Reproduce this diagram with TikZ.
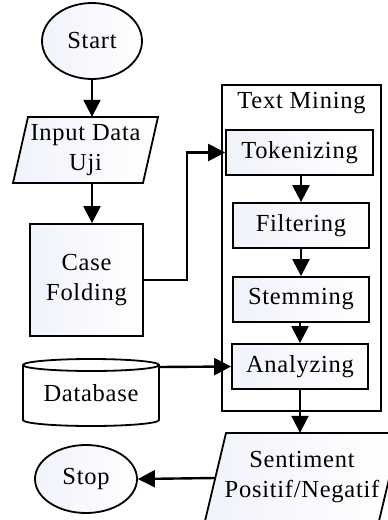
\documentclass[tikz,border=0pt]{standalone}
\usepackage{fontspec}
\setmainfont[LetterSpace=3]{Liberation Serif}
\usetikzlibrary{arrows.meta,shapes.geometric}
\definecolor{shadeblue}{RGB}{241,243,251}
\begin{document}
\begin{tikzpicture}[x=1pt,y=-1pt,
  txt/.style={font=\fontsize{24.5}{30}\selectfont, align=center, inner sep=0pt},
  arr/.style={line width=2.4pt, -{Triangle[length=17pt,width=17pt]}},
  bx/.style={draw, line width=1.8pt, left color=shadeblue, right color=white},
  plain/.style={draw, line width=1.8pt, fill=white},
  term/.style={bx, ellipse, txt},
  stepbox/.style={bx, rectangle, txt, minimum width=136pt, minimum height=45pt},
 ]
\useasboundingbox (0,0) rectangle (388,520);

% Start
\node[term, minimum width=100pt, minimum height=76pt] (start) at (92,41) {Start};

% Input Data Uji (parallelogram)
\path[bx] (28,117) -- (158,117) -- (143,183) -- (13,183) -- cycle;
\node[txt, minimum width=115pt, minimum height=66pt] (input) at (85.5,150) {Input Data\\Uji};

% Case Folding
\node[bx, txt, minimum width=113pt, minimum height=112pt] (case) at (86.5,280) {Case\\Folding};

% Text Mining container
\node[plain, minimum width=159pt, minimum height=326pt] (tm) at (301.5,248) {};
\node[txt] (tmlabel) at (301.5,103) {Text Mining};

% Steps
\node[stepbox, minimum width=147pt] (tok) at (299.5,152.5) {Tokenizing};
\node[stepbox] (fil) at (301,225.5) {Filtering};
\node[stepbox] (stem) at (301,299.5) {Stemming};
\node[stepbox] (ana) at (300,366.5) {Analyzing};

% Database cylinder
\path[plain] (23,365) -- (23,420) arc[start angle=180, end angle=360, x radius=68pt, y radius=6pt] -- (159,365) arc[start angle=0, end angle=180, x radius=68pt, y radius=6pt] -- cycle;
\draw[line width=1.8pt] (23,365) arc[start angle=180, end angle=360, x radius=68pt, y radius=6pt];
\node[txt] (db) at (91,393) {Database};
\coordinate (dbport) at (159,367);

% Sentiment parallelogram
\path[bx] (226,433) -- (400,433) -- (379,521) -- (205,521) -- cycle;
\node[txt, minimum width=150pt, minimum height=88pt] (sent) at (302,477) {Sentiment\\Positif/Negatif};
\coordinate (sentleft) at (215,478);

% Stop
\node[term, minimum width=102pt, minimum height=68pt] (stop) at (86,479) {Stop};

% Connectors
\draw[arr] (start.south) -- (start.south |- input.north);
\draw[arr] (start.south |- input.south) -- (start.south |- case.north);
\draw[arr] (case.east) -- ++(43,0) |- (tok.west);
\draw[arr] (fil.north |- tok.south) -- (fil.north);
\draw[arr] (fil.south) -- (stem.north);
\draw[arr] (stem.south -| ana.north) -- (ana.north);
\draw[arr] (dbport) -- (ana.west);
\draw[arr] (ana.south) -- (ana.south |- sent.north);
\draw[arr] (sentleft) -- (stop.east);
\end{tikzpicture}
\end{document}
